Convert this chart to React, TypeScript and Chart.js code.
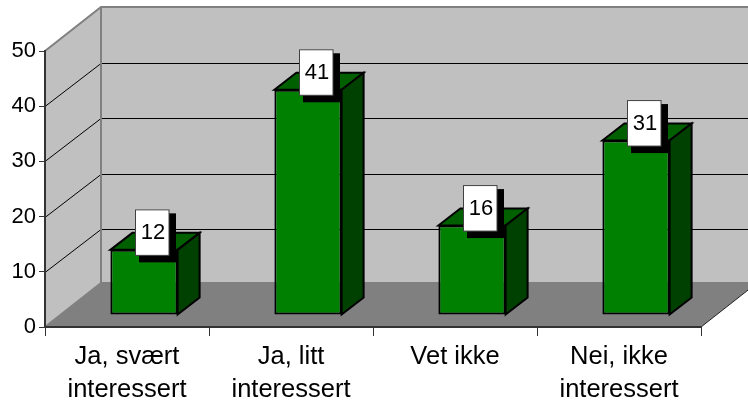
import React, { useEffect, useRef } from "react";
import { Chart, registerables } from "chart.js";

Chart.register(...registerables);

const categories = [["Ja, svært", "interessert"], ["Ja, litt", "interessert"], ["Vet ikke"], ["Nei, ikke", "interessert"]];
const values = [11.8, 40.8, 16.2, 31.6];
const labels = ["12", "41", "16", "31"];

const WALL = "#C0C0C0";
const FLOOR = "#808080";
const EDGE = "#808080";
const FRONT = "#008000";
const TOP = "#006000";
const SIDE = "#004000";
const FONT = '"Liberation Sans", Arial, sans-serif';

const DX = 56, DY = -44;      // plot depth
const BDX = 22, BDY = -17;    // bar depth
const SX = 17, SY = -12;      // bar offset on the floor

const poly = (ctx: CanvasRenderingContext2D, pts: number[][], fill?: string, stroke?: string, lw = 1) => {
  ctx.beginPath();
  pts.forEach(([x, y], i) => (i ? ctx.lineTo(x, y) : ctx.moveTo(x, y)));
  ctx.closePath();
  if (fill) { ctx.fillStyle = fill; ctx.fill(); }
  if (stroke) { ctx.strokeStyle = stroke; ctx.lineWidth = lw; ctx.lineJoin = "miter"; ctx.stroke(); }
};

const threeD = {
  id: "threeD",
  beforeDraw(chart: any) {
    const { ctx, chartArea: a, scales } = chart;
    const { left: l, right: r, top: t, bottom: b } = a;
    ctx.save();
    ctx.fillStyle = "#fff";
    ctx.fillRect(0, 0, chart.width, chart.height);
    poly(ctx, [[l + DX, t + DY], [r + DX, t + DY], [r + DX, b + DY], [l + DX, b + DY]], WALL);
    poly(ctx, [[l, t], [l + DX, t + DY], [l + DX, b + DY], [l, b]], WALL);
    poly(ctx, [[l, b], [l + DX, b + DY], [r + DX, b + DY], [r, b]], FLOOR);
    ctx.lineWidth = 1;
    ctx.strokeStyle = "#000";
    for (const tick of scales.y.ticks) {
      if (tick.value === 0 || tick.value === 50) continue;
      const y = Math.round(scales.y.getPixelForValue(tick.value)) + 0.5;
      ctx.beginPath();
      ctx.moveTo(l, y);
      ctx.lineTo(l + DX, y + DY + 1);
      ctx.lineTo(r + DX, y + DY + 1);
      ctx.stroke();
    }
    ctx.strokeStyle = EDGE;
    ctx.lineWidth = 2;
    ctx.beginPath();
    ctx.moveTo(l, t);
    ctx.lineTo(l + DX, t + DY);
    ctx.lineTo(chart.width + 20, t + DY);
    ctx.moveTo(l + DX, t + DY);
    ctx.lineTo(l + DX, b + DY);
    ctx.lineTo(chart.width + 20, b + DY);
    ctx.moveTo(l, b);
    ctx.lineTo(l + DX, b + DY);
    ctx.stroke();
    ctx.strokeStyle = "#222";
    ctx.lineWidth = 1;
    ctx.beginPath();
    ctx.moveTo(r, b);
    ctx.lineTo(r + DX, b + DY);
    ctx.stroke();
    ctx.restore();
  },
  beforeDatasetsDraw(chart: any) {
    const { ctx } = chart;
    ctx.save();
    ctx.translate(SX, SY);
    chart.getDatasetMeta(0).data.forEach((bar: any) => {
      const { x, y, base, width } = bar.getProps(["x", "y", "base", "width"], true);
      const L = x - width / 2, R = x + width / 2;
      poly(ctx, [[L, y], [L + BDX, y + BDY], [R + BDX, y + BDY], [R, y]], TOP, "#000", 2);
      poly(ctx, [[R, y], [R + BDX, y + BDY], [R + BDX, base + BDY], [R, base]], SIDE, "#000", 2);
    });
  },
  afterDatasetsDraw(chart: any) {
    const { ctx } = chart;
    ctx.restore();
    ctx.save();
    chart.getDatasetMeta(0).data.forEach((bar: any, i: number) => {
      const { x, y } = bar.getProps(["x", "y"], true);
      const bx = x + SX + 8 - 17, by = y + SY - 40.5;
      ctx.fillStyle = "#000";
      ctx.fillRect(bx + 4, by + 4, 37, 49);
      ctx.fillStyle = "#fff";
      ctx.fillRect(bx, by, 34, 46);
      ctx.strokeStyle = "#404040";
      ctx.lineWidth = 1;
      ctx.strokeRect(bx + 0.5, by + 0.5, 33.5, 45.5);
      ctx.fillStyle = "#000";
      ctx.font = `22px ${FONT}`;
      ctx.textAlign = "center";
      ctx.textBaseline = "middle";
      ctx.fillText(labels[i], bx + 18, by + 23.5);
    });
    ctx.restore();
  },
};

export default function App() {
  const ref = useRef<HTMLCanvasElement>(null);
  useEffect(() => {
    const chart = new Chart(ref.current!, {
      type: "bar",
      data: {
        labels: categories as any,
        datasets: [{
          data: values,
          backgroundColor: FRONT,
          borderColor: "#000",
          borderWidth: 2,
          borderSkipped: false,
          barPercentage: 0.41,
          categoryPercentage: 1,
          clip: false as any,
        }],
      },
      options: {
        responsive: false,
        animation: false,
        events: [],
        layout: { padding: { left: 0, right: 47, top: 51, bottom: 0 } },
        plugins: { legend: { display: false }, tooltip: { enabled: false }, title: { display: false } },
        scales: {
          x: {
            afterFit: (s: any) => { s.height = 73; },
            border: { color: "#333", width: 2 },
            grid: { drawOnChartArea: false, drawTicks: true, tickLength: 9, color: "#333", lineWidth: 1, offset: true },
            ticks: {
              autoSkip: false, maxRotation: 0, minRotation: 0, padding: 4, color: "#000",
              font: { family: FONT, size: 25.5, lineHeight: 1.3 },
            },
          },
          y: {
            min: 0, max: 50,
            afterFit: (s: any) => { s.width = 45; },
            border: { color: "#333", width: 2 },
            grid: { drawOnChartArea: false, drawTicks: true, tickLength: 6, color: "#333", lineWidth: 1 },
            ticks: { stepSize: 10, padding: 3, color: "#000", font: { family: FONT, size: 22 } },
          },
        },
      },
      plugins: [threeD],
    } as any);
    return () => chart.destroy();
  }, []);
  return (
    <div style={{ position: "absolute", left: 0, top: 0 }}>
      <canvas ref={ref} width={748} height={400} style={{ display: "block" }} />
    </div>
  );
}
